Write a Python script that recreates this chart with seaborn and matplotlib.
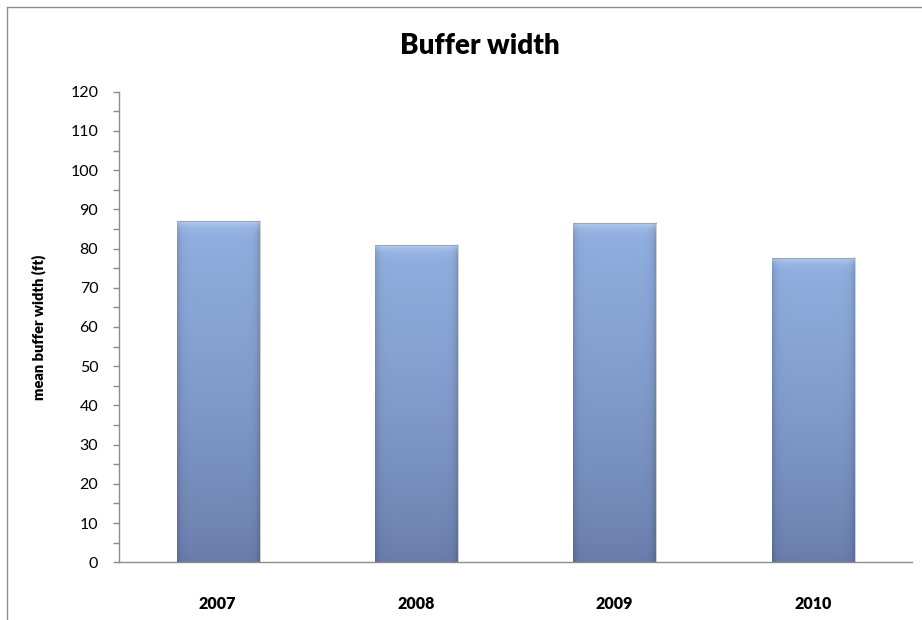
import numpy as np
import pandas as pd
import matplotlib
matplotlib.use("Agg")
import matplotlib.pyplot as plt
import seaborn as sns
from matplotlib.lines import Line2D
from matplotlib.ticker import MultipleLocator

years = ["2007", "2008", "2009", "2010"]
mean_width = [87.1, 80.9, 86.5, 77.6]
title = "Buffer width"
ylabel = "mean buffer width (ft)"

sns.set_theme(style="white")
plt.rcParams['font.family'] = ['Lato', 'DejaVu Sans']
plt.rcParams['text.color'] = 'black'
plt.rcParams['axes.labelcolor'] = 'black'
plt.rcParams['xtick.color'] = 'black'
plt.rcParams['ytick.color'] = 'black'

W, H = 922, 620
fig = plt.figure(figsize=(W / 100, H / 100), dpi=100)
ax = fig.add_axes([118.5 / W, 1 - 562.3 / H, (912 - 118.5) / W, (562.3 - 91.7) / H])

df = pd.DataFrame({"year": years, "width": mean_width})
sns.barplot(data=df, x="year", y="width", ax=ax, color="#87a3d6", width=0.415,
            saturation=1, edgecolor="none", linewidth=0)

ax.set_xlim(-0.5, 3.5)
ax.set_ylim(0, 120)
ax.yaxis.set_major_locator(MultipleLocator(10))
ax.yaxis.set_minor_locator(MultipleLocator(5))

# gradient / bevel fill for bars
ny, nx = 400, 120
yy = np.linspace(1, 0, ny)[:, None]  # 1 top, 0 bottom
xx = np.linspace(0, 1, nx)[None, :]
top_c = np.array([145, 175, 225]) / 255
bot_c = np.array([104, 124, 170]) / 255
base = bot_c + (top_c - bot_c) * yy[..., None] ** 0.75
base = np.broadcast_to(base, (ny, nx, 3)).copy()
# horizontal edge shading
edge = np.minimum(xx, 1 - xx)
shade = np.clip(1 - np.exp(-edge / 0.04), 0, 1)
fac = 0.84 + 0.16 * shade
base *= fac[..., None]
# top bevel highlight
topd = 1 - yy
hl = np.exp(-topd / 0.014) * 0.65
hlmask = np.broadcast_to(hl, (ny, nx))
highlight = np.array([215, 235, 255]) / 255
base = base * (1 - hlmask[..., None]) + highlight * hlmask[..., None]
img = np.clip(base, 0, 1)

for p in list(ax.patches):
    x0, y0 = p.get_x(), p.get_y()
    w, h = p.get_width(), p.get_height()
    im = ax.imshow(img, extent=[x0, x0 + w, y0, y0 + h], aspect="auto",
                   zorder=p.get_zorder() + 0.1, interpolation="bilinear")
    im.set_clip_path(p)
    ax.plot([x0 + w + 0.004, x0 + w + 0.004], [0, h], color="#c8c8c8", lw=1.2,
            zorder=p.get_zorder() - 0.1)
    ax.plot([x0, x0 + w], [h, h], color="#9aa5b8", lw=0.8, zorder=p.get_zorder() + 0.2)

ax.set_xlim(-0.5, 3.5)
ax.set_ylim(0, 120)

for s in ["top", "right"]:
    ax.spines[s].set_visible(False)
for s in ["left", "bottom"]:
    ax.spines[s].set_color("#8c8c8c")
    ax.spines[s].set_linewidth(1.0)

ax.tick_params(axis="y", which="both", direction="out", length=4.5, width=1,
               color="#8c8c8c", left=True, labelsize=11.5, pad=10, labelcolor="#000000")
ax.tick_params(axis="x", which="both", length=0, pad=24, labelsize=11.5,
               labelcolor="#000000")
for lab in ax.get_xticklabels():
    lab.set_fontweight("heavy")

ax.set_xlabel("")
ax.set_ylabel(ylabel, fontsize=10.5, fontweight="heavy", color="black")
ax.yaxis.set_label_coords(-72 / (912 - 118.5), 0.5)

fig.text(480 / W, 1 - 46 / H, title, ha="center", va="center",
         fontsize=20, fontweight="heavy", color="black")

# chart area border (clipped by the image edge)
fig.add_artist(Line2D([6.5 / W, 6.5 / W, 1.0], [0.0, 1 - 7 / H, 1 - 7 / H],
                      transform=fig.transFigure, color="#8c8c8c", lw=1.0))

fig.savefig("out.png", dpi=100)
